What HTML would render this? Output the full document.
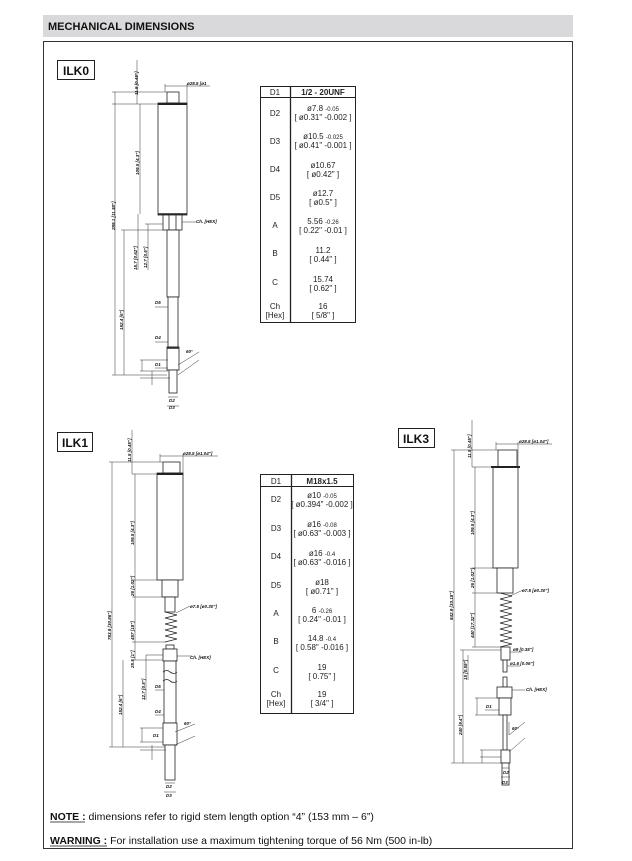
<!DOCTYPE html>
<html><head><meta charset="utf-8"><style>
body{margin:0;background:#fff;}
svg{display:block;}
text{font-family:"Liberation Sans",Arial,sans-serif;}
.t{font-size:8px;fill:#222;text-anchor:middle;}
.s{font-size:6px;fill:#222;}
.d{font-size:4.5px;font-weight:bold;font-style:italic;fill:#111;}
</style></head><body>
<svg width="632" height="861" viewBox="0 0 632 861" xmlns="http://www.w3.org/2000/svg">
<rect x="0" y="0" width="632" height="861" fill="#fff"/>
<rect x="43" y="15" width="530" height="22" fill="#d9d9db"/>
<text x="48" y="30" font-size="11" font-weight="bold" fill="#111">MECHANICAL DIMENSIONS</text>
<rect x="43.5" y="41.5" width="529" height="807" fill="none" stroke="#333" stroke-width="1"/>

<!-- labels -->
<rect x="57.5" y="60.5" width="37" height="19" fill="none" stroke="#222"/>
<text x="76" y="75" font-size="12" font-weight="bold" text-anchor="middle" fill="#111">ILK0</text>
<rect x="57.5" y="432.5" width="35" height="19" fill="none" stroke="#222"/>
<text x="75" y="447" font-size="12" font-weight="bold" text-anchor="middle" fill="#111">ILK1</text>
<rect x="398.5" y="428.5" width="36" height="19" fill="none" stroke="#222"/>
<text x="416" y="443" font-size="12" font-weight="bold" text-anchor="middle" fill="#111">ILK3</text>

<!-- Table 1 -->
<g stroke="#222" fill="none">
<rect x="260.5" y="86.5" width="95" height="236"/>
<line x1="290.5" y1="86.5" x2="290.5" y2="322.5" stroke-width="1.3"/>
<line x1="260.5" y1="97.5" x2="355.5" y2="97.5"/>
</g>
<text class="t" x="275" y="95">D1</text><text class="t" x="323" y="95" font-weight="bold" font-size="9">1/2 - 20UNF</text>
<text class="t" x="275" y="116">D2</text><text class="t" x="323" y="111">ø7.8 <tspan font-size="6">-0.05</tspan></text><text class="t" x="323" y="120" font-size="6.5">[ ø0.31" -0.002 ]</text>
<text class="t" x="275" y="144">D3</text><text class="t" x="323" y="139">ø10.5 <tspan font-size="6">-0.025</tspan></text><text class="t" x="323" y="148" font-size="6.5">[ ø0.41" -0.001 ]</text>
<text class="t" x="275" y="172">D4</text><text class="t" x="323" y="168">ø10.67</text><text class="t" x="323" y="177" font-size="6.5">[ ø0.42" ]</text>
<text class="t" x="275" y="200">D5</text><text class="t" x="323" y="196">ø12.7</text><text class="t" x="323" y="205" font-size="6.5">[ ø0.5" ]</text>
<text class="t" x="275" y="228">A</text><text class="t" x="323" y="224">5.56 <tspan font-size="6">-0.26</tspan></text><text class="t" x="323" y="233" font-size="6.5">[ 0.22" -0.01 ]</text>
<text class="t" x="275" y="256">B</text><text class="t" x="323" y="253">11.2</text><text class="t" x="323" y="262" font-size="6.5">[ 0.44" ]</text>
<text class="t" x="275" y="285">C</text><text class="t" x="323" y="282">15.74</text><text class="t" x="323" y="291" font-size="6.5">[ 0.62" ]</text>
<text class="t" x="275" y="309">Ch</text><text class="t" x="275" y="318" font-size="7">[Hex]</text><text class="t" x="323" y="309">16</text><text class="t" x="323" y="318" font-size="6.5">[ 5/8" ]</text>

<!-- Table 2 -->
<g stroke="#222" fill="none">
<rect x="260.5" y="474.5" width="93" height="239"/>
<line x1="291.5" y1="474.5" x2="291.5" y2="713.5" stroke-width="1.3"/>
<line x1="260.5" y1="486.5" x2="353.5" y2="486.5"/>
</g>
<text class="t" x="276" y="484">D1</text><text class="t" x="322" y="484" font-weight="bold" font-size="9">M18x1.5</text>
<text class="t" x="276" y="502">D2</text><text class="t" x="322" y="498">ø10 <tspan font-size="6">-0.05</tspan></text><text class="t" x="322" y="507" font-size="6.5">[ ø0.394" -0.002 ]</text>
<text class="t" x="276" y="531">D3</text><text class="t" x="322" y="527">ø16 <tspan font-size="6">-0.08</tspan></text><text class="t" x="322" y="536" font-size="6.5">[ ø0.63" -0.003 ]</text>
<text class="t" x="276" y="559">D4</text><text class="t" x="322" y="556">ø16 <tspan font-size="6">-0.4</tspan></text><text class="t" x="322" y="565" font-size="6.5">[ ø0.63" -0.016 ]</text>
<text class="t" x="276" y="588">D5</text><text class="t" x="322" y="585">ø18</text><text class="t" x="322" y="594" font-size="6.5">[ ø0.71" ]</text>
<text class="t" x="276" y="616">A</text><text class="t" x="322" y="613">6 <tspan font-size="6">-0.26</tspan></text><text class="t" x="322" y="622" font-size="6.5">[ 0.24" -0.01 ]</text>
<text class="t" x="276" y="644">B</text><text class="t" x="322" y="641">14.8 <tspan font-size="6">-0.4</tspan></text><text class="t" x="322" y="650" font-size="6.5">[ 0.58" -0.016 ]</text>
<text class="t" x="276" y="673">C</text><text class="t" x="322" y="670">19</text><text class="t" x="322" y="679" font-size="6.5">[ 0.75" ]</text>
<text class="t" x="276" y="697">Ch</text><text class="t" x="276" y="706" font-size="7">[Hex]</text><text class="t" x="322" y="697">19</text><text class="t" x="322" y="706" font-size="6.5">[ 3/4" ]</text>

<!-- ILK0 drawing -->
<g stroke="#222" fill="#fff" stroke-width="0.8">
<rect x="167" y="92" width="12" height="11"/>
<rect x="158" y="103" width="29" height="112"/>
<line x1="158" y1="104" x2="187" y2="104" stroke-width="2"/>
<line x1="158" y1="214" x2="187" y2="214" stroke-width="1.5"/>
<rect x="163" y="215" width="19" height="15"/>
<line x1="169" y1="215" x2="169" y2="230"/><line x1="176" y1="215" x2="176" y2="230"/>
<rect x="167" y="230" width="12" height="67"/>
<rect x="168" y="297" width="10" height="50"/>
<rect x="167" y="347" width="12" height="23"/>
<line x1="167" y1="348" x2="179" y2="348" stroke-width="1.5"/>
<rect x="169" y="370" width="8" height="23"/>
</g>
<g stroke="#333" stroke-width="0.5" fill="none">
<line x1="112" y1="92" x2="167" y2="92"/><line x1="112" y1="104" x2="158" y2="104"/>
<line x1="115" y1="92" x2="115" y2="375"/><line x1="112" y1="375" x2="167" y2="375"/>
<line x1="137" y1="60" x2="137" y2="104"/>
<line x1="140" y1="104" x2="140" y2="214"/>
<line x1="124" y1="230" x2="124" y2="375"/><line x1="121" y1="230" x2="163" y2="230"/>
<line x1="138" y1="214" x2="138" y2="270"/><line x1="148" y1="224" x2="148" y2="270"/>
<line x1="145" y1="224" x2="163" y2="224"/>
<line x1="165" y1="92" x2="165" y2="84"/><line x1="187" y1="103" x2="187" y2="84"/><line x1="165" y1="86" x2="210" y2="86"/>
<line x1="182" y1="222" x2="196" y2="222"/>
<line x1="140" y1="360" x2="168" y2="360"/><line x1="140" y1="371" x2="168" y2="371"/>
<line x1="142" y1="360" x2="142" y2="371"/>
<line x1="140" y1="378" x2="170" y2="378"/><line x1="152" y1="371" x2="152" y2="385"/>
<line x1="178" y1="365" x2="199" y2="352"/><line x1="178" y1="375" x2="199" y2="360"/>
<line x1="155" y1="307" x2="168" y2="307"/><line x1="155" y1="342" x2="168" y2="342"/>
<line x1="155" y1="368" x2="168" y2="368"/>
<line x1="168" y1="397" x2="178" y2="397"/><line x1="167" y1="406" x2="179" y2="406"/>
</g>
<g class="d">
<text x="187" y="85" class="d">ø28.5 [ø1</text>
<text x="196" y="223" class="d">Ch. [HEX]</text>
<text x="155" y="304" class="d">D5</text><text x="155" y="339" class="d">D4</text>
<text x="155" y="366" class="d">D1</text>
<text x="169" y="402" class="d">D2</text><text x="169" y="409" class="d">D3</text>
<text x="186" y="353" class="d">60°</text>
<text class="d" transform="translate(115,230) rotate(-90)">289.1 [11.38"]</text>
<text class="d" transform="translate(138,95) rotate(-90)">11.5 [0.45"]</text>
<text class="d" transform="translate(139,175) rotate(-90)">109.5 [4.3"]</text>
<text class="d" transform="translate(123,330) rotate(-90)">152.4 [6"]</text>
<text class="d" transform="translate(137,270) rotate(-90)">15.7 [0.62"]</text>
<text class="d" transform="translate(147,268) rotate(-90)">12.7 [0.5"]</text>
</g>

<!-- ILK1 drawing -->
<g stroke="#222" fill="#fff" stroke-width="0.8">
<rect x="163" y="462" width="17" height="11"/>
<rect x="157" y="473" width="26" height="107"/>
<line x1="157" y1="474" x2="183" y2="474" stroke-width="2"/>
<rect x="162" y="580" width="16" height="17"/>
<rect x="165" y="597" width="10" height="15"/>
<path d="M165 612 l12 3 l-12 3 l12 3 l-12 3 l12 3 l-12 3 l12 3 l-12 3 l12 3 l-12 3" fill="none"/>
<rect x="166" y="645" width="8" height="4"/>
<rect x="163" y="649" width="14" height="12"/>
<rect x="164" y="661" width="12" height="62"/>
<path d="M163 672 q4 -3 7 0 q4 3 7 0 M163 681 q4 -3 7 0 q4 3 7 0" fill="none"/>
<rect x="163" y="723" width="14" height="22"/>
<rect x="165" y="745" width="10" height="35"/>
</g>
<g stroke="#333" stroke-width="0.5" fill="none">
<line x1="109" y1="462" x2="163" y2="462"/><line x1="112" y1="462" x2="112" y2="747"/><line x1="109" y1="747" x2="165" y2="747"/>
<line x1="132" y1="430" x2="132" y2="474"/><line x1="132" y1="474" x2="157" y2="474"/>
<line x1="135" y1="474" x2="135" y2="580"/><line x1="132" y1="580" x2="162" y2="580"/>
<line x1="132" y1="597" x2="165" y2="597"/><line x1="132" y1="642" x2="166" y2="642"/>
<line x1="132" y1="660" x2="163" y2="660"/><line x1="135" y1="580" x2="135" y2="660"/>
<line x1="123" y1="660" x2="123" y2="747"/>
<line x1="146" y1="655" x2="146" y2="700"/><line x1="146" y1="655" x2="163" y2="655"/>
<line x1="160" y1="462" x2="160" y2="454"/><line x1="183" y1="473" x2="183" y2="454"/><line x1="160" y1="456" x2="218" y2="456"/>
<line x1="176" y1="613" x2="190" y2="606"/><line x1="177" y1="656" x2="192" y2="656"/>
<line x1="140" y1="728" x2="163" y2="728"/><line x1="140" y1="742" x2="163" y2="742"/><line x1="142" y1="728" x2="142" y2="742"/>
<line x1="140" y1="750" x2="166" y2="750"/><line x1="152" y1="745" x2="152" y2="760"/>
<line x1="175" y1="732" x2="195" y2="724"/><line x1="175" y1="745" x2="195" y2="736"/>
<line x1="155" y1="690" x2="164" y2="690"/><line x1="155" y1="715" x2="164" y2="715"/>
<line x1="165" y1="783" x2="175" y2="783"/><line x1="164" y1="792" x2="176" y2="792"/>
</g>
<g>
<text x="183" y="455" class="d">ø28.5 [ø1.04"]</text>
<text x="190" y="608" class="d">ø7.5 [ø0.30"]</text>
<text x="190" y="659" class="d">Ch. [HEX]</text>
<text x="155" y="688" class="d">D5</text><text x="155" y="713" class="d">D4</text><text x="153" y="737" class="d">D1</text>
<text x="166" y="788" class="d">D2</text><text x="166" y="797" class="d">D3</text>
<text x="184" y="725" class="d">60°</text>
<text class="d" transform="translate(111,640) rotate(-90)">783.9 [30.86"]</text>
<text class="d" transform="translate(131,462) rotate(-90)">11.5 [0.45"]</text>
<text class="d" transform="translate(134,545) rotate(-90)">109.5 [4.3"]</text>
<text class="d" transform="translate(134,596) rotate(-90)">26 [1.02"]</text>
<text class="d" transform="translate(134,640) rotate(-90)">457 [18"]</text>
<text class="d" transform="translate(134,668) rotate(-90)">25.5 [1"]</text>
<text class="d" transform="translate(145,700) rotate(-90)">12.7 [0.5"]</text>
<text class="d" transform="translate(122,715) rotate(-90)">152.4 [6"]</text>
</g>

<!-- ILK3 drawing -->
<g stroke="#222" fill="#fff" stroke-width="0.8">
<rect x="498" y="450" width="19" height="17"/>
<rect x="493" y="467" width="25" height="101"/>
<line x1="491" y1="467" x2="520" y2="467" stroke-width="2"/>
<rect x="497" y="568" width="16" height="25"/>
<path d="M500 593 l12 3 l-12 3 l12 3 l-12 3 l12 3 l-12 3 l12 3 l-12 3 l12 3 l-12 3 l12 3 l-12 3 l12 3 l-12 3 l12 3 l-12 3 l12 3 l-12 3" fill="none"/>
<rect x="501" y="647" width="9" height="13"/>
<rect x="503" y="660" width="4" height="12"/>
<rect x="503" y="677" width="4" height="10"/>
<rect x="497" y="687" width="15" height="11"/>
<rect x="499" y="698" width="12" height="17"/>
<rect x="503" y="715" width="4" height="35"/>
<rect x="501" y="750" width="9" height="13"/>
<rect x="502" y="763" width="7" height="22"/>
</g>
<g stroke="#333" stroke-width="0.5" fill="none">
<line x1="451" y1="450" x2="498" y2="450"/><line x1="454" y1="450" x2="454" y2="763"/><line x1="451" y1="763" x2="501" y2="763"/>
<line x1="472" y1="420" x2="472" y2="467"/><line x1="472" y1="467" x2="493" y2="467"/>
<line x1="475" y1="467" x2="475" y2="568"/><line x1="472" y1="568" x2="497" y2="568"/>
<line x1="475" y1="568" x2="475" y2="647"/><line x1="472" y1="593" x2="500" y2="593"/>
<line x1="472" y1="647" x2="501" y2="647"/>
<line x1="463" y1="650" x2="463" y2="763"/><line x1="460" y1="650" x2="501" y2="650"/>
<line x1="468" y1="655" x2="468" y2="680"/>
<line x1="496" y1="450" x2="496" y2="442"/><line x1="518" y1="467" x2="518" y2="442"/><line x1="496" y1="444" x2="552" y2="444"/>
<line x1="510" y1="596" x2="523" y2="590"/>
<line x1="510" y1="652" x2="522" y2="652"/><line x1="507" y1="666" x2="520" y2="666"/>
<line x1="512" y1="690" x2="525" y2="690"/>
<line x1="475" y1="698" x2="499" y2="698"/><line x1="475" y1="715" x2="499" y2="715"/><line x1="477" y1="698" x2="477" y2="715"/>
<line x1="485" y1="710" x2="499" y2="710"/>
<line x1="480" y1="750" x2="501" y2="750"/><line x1="480" y1="757" x2="501" y2="757"/><line x1="482" y1="750" x2="482" y2="763"/>
<line x1="509" y1="735" x2="525" y2="722"/><line x1="509" y1="752" x2="525" y2="738"/><line x1="509" y1="722" x2="509" y2="735"/>
<line x1="502" y1="768" x2="509" y2="768"/><line x1="501" y1="777" x2="510" y2="777"/>
</g>
<g>
<text x="519" y="443" class="d">ø28.5 [ø1.04"]</text>
<text x="522" y="592" class="d">ø7.5 [ø0.30"]</text>
<text x="513" y="651" class="d">ø9 [0.35"]</text>
<text x="510" y="665" class="d">ø1.6 [0.06"]</text>
<text x="526" y="691" class="d">Ch. [HEX]</text>
<text x="486" y="708" class="d">D1</text>
<text x="503" y="774" class="d">D2</text><text x="502" y="784" class="d">D3</text>
<text x="512" y="730" class="d">60°</text>
<text class="d" transform="translate(453,620) rotate(-90)">842.9 [33.18"]</text>
<text class="d" transform="translate(471,458) rotate(-90)">11.5 [0.45"]</text>
<text class="d" transform="translate(474,535) rotate(-90)">109.5 [4.3"]</text>
<text class="d" transform="translate(474,588) rotate(-90)">26 [1.02"]</text>
<text class="d" transform="translate(474,638) rotate(-90)">440 [17.32"]</text>
<text class="d" transform="translate(467,680) rotate(-90)">15 [0.59"]</text>
<text class="d" transform="translate(462,735) rotate(-90)">240 [9.4"]</text>
</g>

<!-- Notes -->
<text x="50" y="820" font-size="10.5" fill="#111"><tspan font-weight="bold">NOTE :</tspan> dimensions refer to rigid stem length option “4” (153 mm – 6”)</text>
<line x1="50" y1="822" x2="85" y2="822" stroke="#111" stroke-width="0.8"/>
<text x="50" y="844" font-size="10.5" fill="#111"><tspan font-weight="bold">WARNING :</tspan> For installation use a maximum tightening torque of 56 Nm (500 in-lb)</text>
<line x1="50" y1="846" x2="107" y2="846" stroke="#111" stroke-width="0.8"/>
</svg>
</body></html>
